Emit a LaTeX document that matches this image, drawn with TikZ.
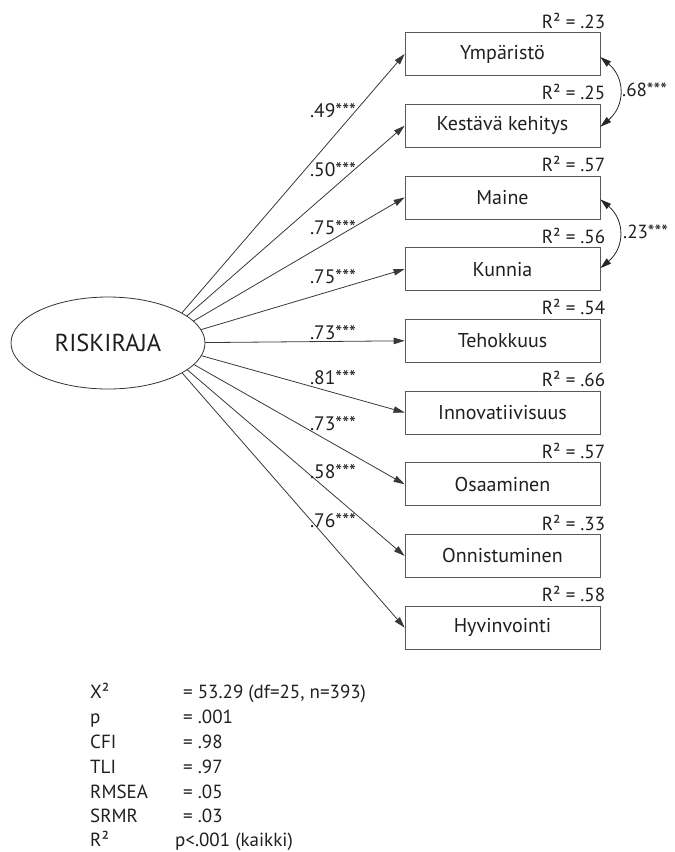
\documentclass[tikz,border=0pt]{standalone}
\usepackage{fontspec}
\setmainfont{PT Sans}
\usetikzlibrary{arrows.meta,shapes.geometric}

\begin{document}
\begin{tikzpicture}[x=1pt,y=1pt,
  txt/.style={font=\fontsize{19}{21}\selectfont, text=black!88, inner sep=0pt},
  indicator/.style={draw=black!65, line width=0.8pt, minimum width=195pt,
    minimum height=43pt, inner sep=0pt, txt, font=\fontsize{20}{22}\selectfont},
  load/.style={draw=black!78, line width=0.8pt, -{Triangle[length=11pt,width=6.5pt]}},
  cov/.style={draw=black!85, line width=0.8pt,
    {Triangle[length=11pt,width=6.5pt]}-{Triangle[length=11pt,width=6.5pt]}},
  rsq/.style={txt, anchor=base east},
  lbl/.style={txt, anchor=center, font=\fontsize{19.5}{21}\selectfont},
  stat/.style={txt, anchor=base west}
]
\useasboundingbox (0,0) rectangle (675,-852);

% observed indicators
\node[indicator] (ymp) at (502.5,-54)    {Ympäristö};
\node[indicator] (kes) at (502.5,-125.7) {Kestävä kehitys};
\node[indicator] (mai) at (502.5,-197.4) {Maine};
\node[indicator] (kun) at (502.5,-269.1) {Kunnia};
\node[indicator] (teh) at (502.5,-340.8) {Tehokkuus};
\node[indicator] (inn) at (502.5,-412.5) {Innovatiivisuus};
\node[indicator] (osa) at (502.5,-484.2) {Osaaminen};
\node[indicator] (onn) at (502.5,-555.9) {Onnistuminen};
\node[indicator] (hyv) at (502.5,-627.6) {Hyvinvointi};

% explained variance above each box
\foreach \b/\r in {ymp/.23, kes/.25, mai/.57, kun/.56, teh/.54,
                   inn/.66, osa/.57, onn/.33, hyv/.58}
  \node[rsq] (r-\b) at ([xshift=5pt,yshift=4pt]\b.north east) {R² = \r};

% factor loadings: rays from a common point inside the latent ellipse
\coordinate (src) at (156,-343);
\foreach \b in {ymp,kes,mai,kun,teh,inn,osa,onn,hyv}
  \draw[load] (src) -- (\b.west);

% latent variable, filled so that it hides the start of the rays
\node[ellipse, draw=black!80, line width=0.8pt, fill=white, minimum width=194pt,
  minimum height=92pt, inner sep=0pt, font=\fontsize{24.5}{26}\selectfont,
  text=black!88] (lat) at (108,-343) {RISKIRAJA};

% loading values
\node[lbl] (l1) at (333,-111) {.49***};
\node[lbl] (l2) at (333,-170) {.50***};
\node[lbl] (l3) at (333,-228) {.75***};
\node[lbl] (l4) at (333,-277) {.75***};
\node[lbl] (l5) at (333,-333) {.73***};
\node[lbl] (l6) at (333,-378) {.81***};
\node[lbl] (l7) at (333,-424) {.73***};
\node[lbl] (l8) at (333,-472) {.58***};
\node[lbl] (l9) at (333,-521) {.76***};

% residual covariances
\draw[cov] ([yshift=-3pt]ymp.east) to[out=-40,in=40,looseness=1.2] ([yshift=-1pt]kes.east);
\node[txt, anchor=west] (c1) at (622,-90) {.68***};
\draw[cov] ([yshift=-2pt]mai.east) to[out=-40,in=40,looseness=1.2] ([yshift=1pt]kun.east);
\node[txt, anchor=west] (c2) at (623,-232) {.23***};

% model fit
\node[stat] (s1a) at (90,-698) {X²};     \node[stat] (s1b) at (183,-698) {= 53.29 (df=25, n=393)};
\node[stat] (s2a) at (90,-723) {p};      \node[stat] (s2b) at (183,-723) {= .001};
\node[stat] (s3a) at (90,-748) {CFI};    \node[stat] (s3b) at (183,-748) {= .98};
\node[stat] (s4a) at (90,-773) {TLI};    \node[stat] (s4b) at (183,-773) {= .97};
\node[stat] (s5a) at (90,-798) {RMSEA};  \node[stat] (s5b) at (183,-798) {= .05};
\node[stat] (s6a) at (90,-822) {SRMR};   \node[stat] (s6b) at (183,-822) {= .03};
\node[stat] (s7a) at (90,-846) {R²};     \node[stat] (s7b) at (175,-846) {p<.001 (kaikki)};
\end{tikzpicture}
\end{document}
